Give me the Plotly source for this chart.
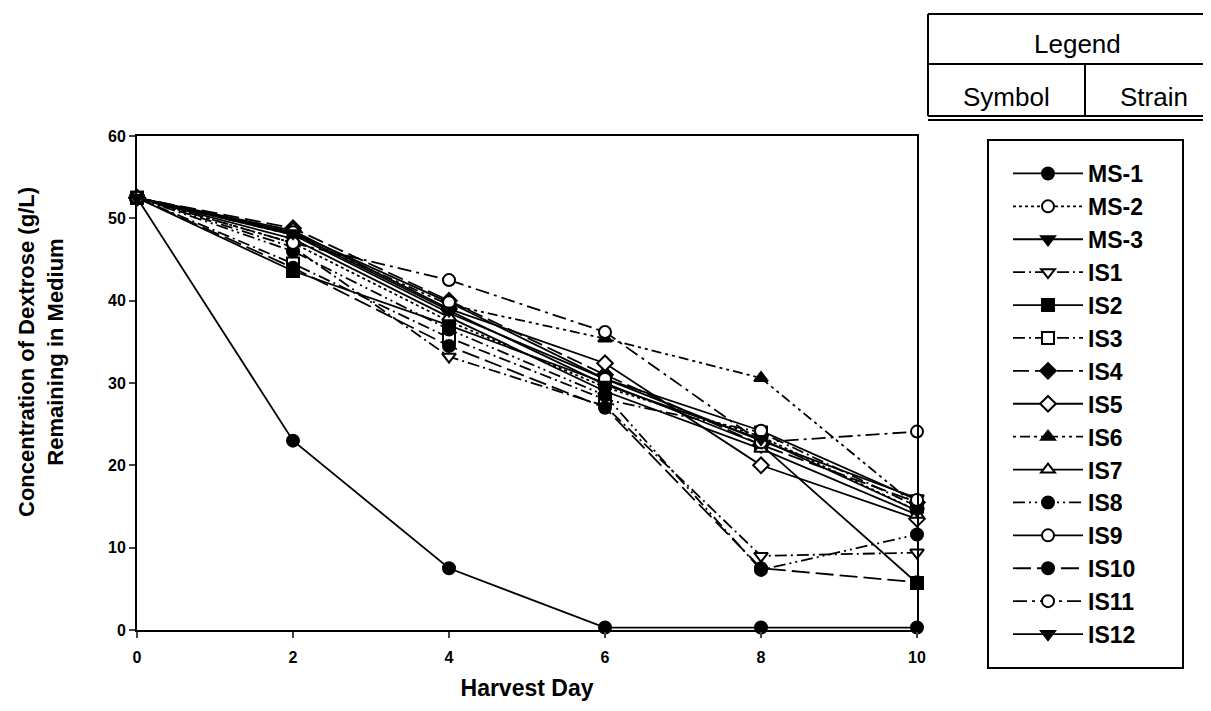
import plotly.graph_objects as go

days = [0, 2, 4, 6, 8, 10]

ms1 = [52.5, 23.0, 7.5, 0.3, 0.3, 0.3]
ms2 = [52.5, 47.0, 37.5, 29.5, 23.5, 14.5]
ms3 = [52.5, 48.0, 38.5, 30.5, 23.0, 16.0]
is1 = [52.5, 46.5, 33.2, 27.2, 9.0, 9.4]
is2 = [52.5, 43.6, 37.0, 30.0, 22.5, 5.7]
is3 = [52.5, 44.5, 35.5, 28.0, 24.0, 15.0]
is4 = [52.5, 48.8, 40.0, 31.0, 22.5, 15.5]
is5 = [52.5, 48.5, 39.0, 32.4, 20.0, 13.5]
is6 = [52.5, 48.0, 39.5, 35.4, 30.6, 15.0]
is7 = [52.5, 47.5, 38.0, 29.0, 22.0, 14.0]
is8 = [52.5, 46.0, 36.5, 28.5, 7.3, 11.6]
is9 = [52.5, 48.3, 39.8, 30.5, 24.2, 15.8]
is10 = [52.5, 44.0, 34.5, 27.0, 7.5, 5.8]
is11 = [52.5, 47.0, 42.5, 36.2, 22.8, 24.1]
is12 = [52.5, 48.2, 38.8, 29.8, 23.2, 14.5]

strains = ["MS-1", "MS-2", "MS-3", "IS1", "IS2", "IS3", "IS4", "IS5",
           "IS6", "IS7", "IS8", "IS9", "IS10", "IS11", "IS12"]
values = [ms1, ms2, ms3, is1, is2, is3, is4, is5, is6, is7, is8, is9, is10, is11, is12]

symbols = ["circle", "circle-open", "triangle-down", "triangle-down-open", "square",
           "square-open", "diamond", "diamond-open", "triangle-up", "triangle-up-open",
           "circle", "circle-open", "circle", "circle-open", "triangle-down"]
dashes = ["solid", "dot", "solid", "12px,4px,2px,4px", "solid",
          "12px,4px,2px,4px", "16px,6px", "solid", "3px,4px,10px,4px,3px,4px",
          "solid", "12px,4px,2px,4px,2px,4px", "solid", "18px,6px", "14px,5px,3px,5px", "solid"]

W, H = 1211, 711
OFF = 8  # page body margin
# plot area in window pixels
L, R, T, B = 137, 917, 136, 630


def px(xp):
    return (xp - OFF) / W


def py(yp):
    return 1 - (yp - OFF) / H


fig = go.Figure()
for i, (name, vals) in enumerate(zip(strains, values)):
    open_sym = symbols[i].endswith("open")
    fig.add_trace(go.Scatter(
        x=days, y=vals, name=name, mode="lines+markers",
        line=dict(color="black", width=1.8, dash=dashes[i]),
        marker=dict(symbol=symbols[i].replace("-open", ""), size=12,
                    color="white" if open_sym else "black",
                    line=dict(color="black", width=2)),
        legendgroup=name, cliponaxis=False,
    ))

FAM = "Liberation Sans, Arial, sans-serif"
tickfont = dict(family=FAM, size=16, color="black", weight="bold")

fig.update_layout(
    width=W, height=H,
    margin=dict(l=0, r=0, t=0, b=0, autoexpand=False),
    paper_bgcolor="white", plot_bgcolor="white",
    font=dict(family=FAM, color="black"),
    xaxis=dict(domain=[px(L), px(R)], range=[0, 10], tickvals=[0, 2, 4, 6, 8, 10],
               ticks="outside", ticklen=6, ticklabelstandoff=6,
               tickwidth=2, showline=True, linewidth=2, linecolor="black", mirror=True,
               showgrid=False, zeroline=False, tickfont=tickfont,
               title=dict(text="Harvest Day", font=dict(size=23, weight="bold"), standoff=15)),
    yaxis=dict(domain=[py(B), py(T)], range=[0, 60], tickvals=[0, 10, 20, 30, 40, 50, 60],
               ticks="outside", ticklen=6,
               tickwidth=2, showline=True, linewidth=2, linecolor="black", mirror=True,
               showgrid=False, zeroline=False, tickfont=tickfont),
    legend=dict(x=px(1008), y=py(152), xanchor="left", yanchor="top",
                borderwidth=0, bgcolor="rgba(0,0,0,0)",
                font=dict(family=FAM, size=23, color="black", weight="bold"),
                traceorder="grouped", tracegroupgap=0, itemwidth=70,
                ),
)

# Y axis title (placed as rotated text, centred where the reference has it)
fig.add_annotation(xref="paper", yref="paper", x=px(41), y=py(352),
                   text="Concentration of Dextrose (g/L)<br>Remaining in Medium",
                   textangle=-90, showarrow=False, xanchor="center", yanchor="middle",
                   font=dict(family=FAM, size=22, color="black", weight="bold"))

# Legend header table and box
line = dict(color="black", width=2)


def hline(y, x0=928, x1=1225):
    fig.add_shape(type="line", xref="paper", yref="paper", x0=px(x0), x1=px(x1),
                  y0=py(y), y1=py(y), line=line)


def vline(x, y0, y1):
    fig.add_shape(type="line", xref="paper", yref="paper", x0=px(x), x1=px(x),
                  y0=py(y0), y1=py(y1), line=line)


hline(14)
hline(64)
hline(116)
hline(120)
vline(928, 14, 116)
vline(1085, 64, 116)
fig.add_shape(type="rect", xref="paper", yref="paper", x0=px(988), x1=px(1183),
              y0=py(668), y1=py(140), line=line, layer="below")

ann_font = dict(family=FAM, size=26, color="black")
for text, x, y in [("Legend", 1077, 44), ("Symbol", 1006, 97), ("Strain", 1154, 97)]:
    fig.add_annotation(xref="paper", yref="paper", x=px(x), y=py(y), text=text,
                       showarrow=False, font=ann_font, xanchor="center", yanchor="middle")

fig.write_html("out.html")
